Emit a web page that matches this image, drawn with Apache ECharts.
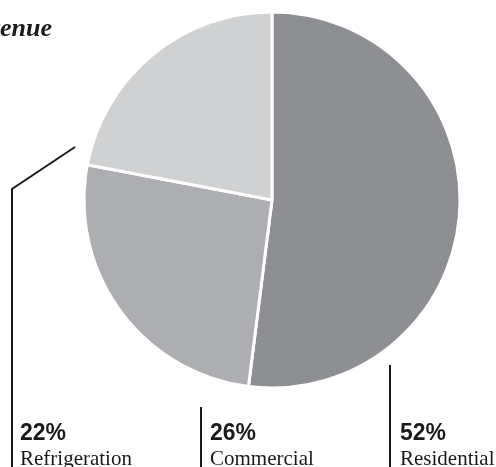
<!DOCTYPE html>
<html>
<head>
<meta charset="utf-8">
<script src="https://cdn.jsdelivr.net/npm/echarts@6/dist/echarts.min.js"></script>
<style>
  html, body { margin: 0; padding: 0; background: #fff; }
  #chart { width: 496px; height: 467px; }
</style>
</head>
<body>
<div id="chart"></div>
<script>
var categories = ['Residential', 'Commercial', 'Refrigeration'];
var shares = [52, 26, 22];
var sliceColors = ['#8e8f93', '#adaeb1', '#d0d1d3'];

// label anchor + leader line per slice (same order as categories)
var labelSpots = [
  { x: 400, y: 421, line: [[390, 365], [390, 470]] },
  { x: 210, y: 421, line: [[201, 407], [201, 470]] },
  { x: 20, y: 421, line: [[75, 147], [12, 189], [12, 470]] }
];

var chart = echarts.init(document.getElementById('chart'));

var pieData = categories.map(function (name, i) {
  return { name: name, value: shares[i], itemStyle: { color: sliceColors[i] } };
});

var option = {
  backgroundColor: '#ffffff',
  animation: false,
  graphic: [
    {
      type: 'text',
      right: 444,
      top: 16,
      style: {
        text: 'Revenue',
        font: 'bold italic 26px "Liberation Serif"',
        fill: '#1a1a1a',
        textAlign: 'right'
      }
    }
  ],
  series: [
    {
      type: 'pie',
      center: [272, 200],
      radius: [0, 188],
      startAngle: 90,
      clockwise: true,
      silent: true,
      avoidLabelOverlap: false,
      itemStyle: {
        borderColor: '#ffffff',
        borderWidth: 3
      },
      label: {
        show: true,
        position: 'outer',
        alignTo: 'none',
        overflow: 'none',
        formatter: function (p) {
          return '{p|' + p.value + '%}\n{n|' + p.name + '}';
        },
        rich: {
          p: {
            fontFamily: 'Liberation Sans',
            fontWeight: 'bold',
            fontSize: 23,
            color: '#1a1a1a',
            lineHeight: 26
          },
          n: {
            fontFamily: 'Liberation Serif',
            fontSize: 21,
            color: '#1a1a1a',
            lineHeight: 24
          }
        }
      },
      labelLine: {
        show: true,
        lineStyle: { color: '#1a1a1a', width: 2 }
      },
      labelLayout: function (params) {
        var s = labelSpots[params.dataIndex];
        return {
          x: s.x,
          y: s.y,
          align: 'left',
          verticalAlign: 'top',
          hideOverlap: false,
          moveOverlap: null,
          labelLinePoints: s.line
        };
      },
      data: pieData
    }
  ]
};

chart.setOption(option);
</script>
</body>
</html>
